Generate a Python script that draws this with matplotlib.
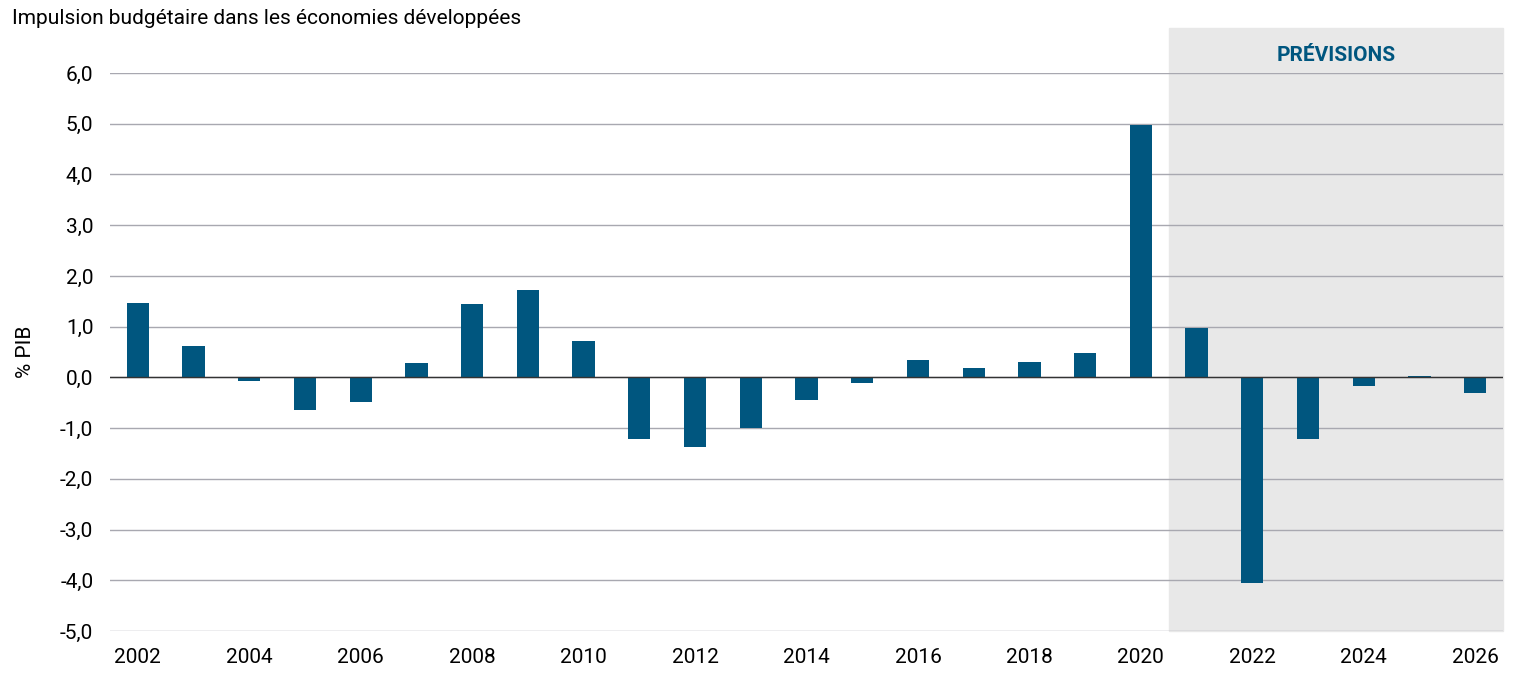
import matplotlib
matplotlib.use("Agg")
import matplotlib.pyplot as plt

years = list(range(2002, 2027))
values = [1.46, 0.61, -0.08, -0.65, -0.49, 0.28, 1.44, 1.72, 0.71, -1.22, -1.38, -0.99,
          -0.45, -0.12, 0.34, 0.18, 0.30, 0.49, 4.97, 0.97, -4.06, -1.22, -0.18, 0.03, -0.30]
yticks = [6, 5, 4, 3, 2, 1, 0, -1, -2, -3, -4, -5]
xticks = list(range(2002, 2027, 2))

plt.rcParams['font.family'] = ['Roboto', 'DejaVu Sans']
fig = plt.figure(figsize=(15.33, 6.97), dpi=100)
ax = fig.add_axes([110/1533, 1-631/697, 1393/1533, 558/697])
ax.set_xlim(2001.5, 2026.5)
ax.set_ylim(-5, 6)
ax.axvspan(2020.5, 2026.5, ymin=0, ymax=1.08, color='#e8e8e8', zorder=0, clip_on=False)
for t in yticks:
    ax.axhline(t, color='#a8a8b0', lw=1, zorder=1)
ax.bar(years, values, width=0.4, color='#00567f', zorder=3)
ax.axhline(0, color='#333333', lw=1, zorder=4)
for s in ax.spines.values():
    s.set_visible(False)
ax.set_yticks(yticks)
ax.set_yticklabels([f"{t:.1f}".replace('.', ',') for t in yticks], fontsize=15)
ax.set_xticks(xticks)
ax.set_xticklabels([str(x) for x in xticks], fontsize=15)
ax.tick_params(length=0, pad=12)
ax.set_ylabel("% PIB", fontsize=15, labelpad=18)
ax.text(2023.5, 6.35, "PRÉVISIONS", ha='center', va='center', fontsize=15,
        fontweight='bold', color='#00567f')
fig.text(12/1533, 1-18/697, "Impulsion budgétaire dans les économies développées",
         fontsize=15, va='center', ha='left')
fig.savefig("out.png", dpi=100)
